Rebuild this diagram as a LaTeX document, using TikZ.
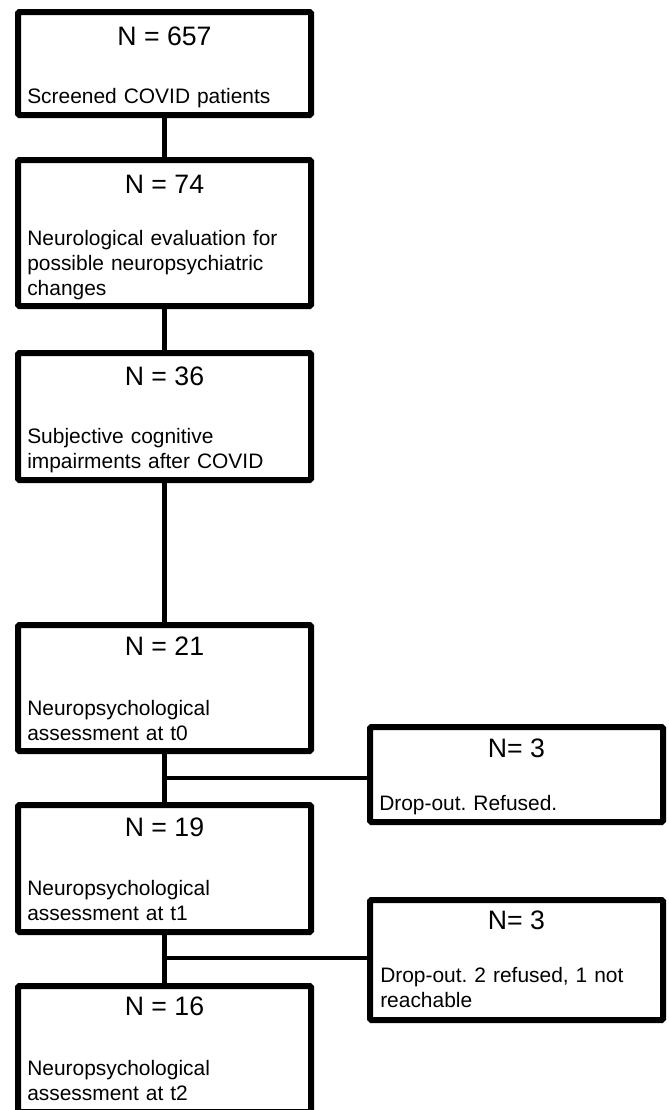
\documentclass[tikz,border=0pt]{standalone}
\usepackage{fontspec}
\setmainfont{Liberation Sans}
\frenchspacing
\tikzset{
box/.style={draw, line width=4.5pt, inner sep=0pt, outer sep=0pt, minimum width=219.75pt, rounded corners=1pt}, % frame of each stage
head/.style={anchor=base, inner sep=0pt, font=\fontsize{20}{24}\selectfont}, % the count at the top of a frame
body/.style={anchor=base west, inner sep=0pt, text width=214pt, align=left, font=\fontsize{15.7}{18.75}\selectfont}, % the description under it
link/.style={line width=3.5pt}, % lines between the frames
}

\begin{document}
\begin{tikzpicture}[x=0.75pt, y=-0.75pt]
    \useasboundingbox (0,0) rectangle (668,1110);

    % main column
    \node[box, minimum height=77.25pt] (b1) at (164.5,63.5) {};
    \node[box, minimum height=109.5pt] (b2) at (164.5,233) {};
    \node[box, minimum height=95.25pt] (b3) at (164.5,416.5) {};
    \node[box, minimum height=94.5pt] (b4) at (164.5,688) {};
    \node[box, minimum height=95.25pt] (b5) at (164.5,868.5) {};
    \node[box, minimum height=94.5pt] (b6) at (164.5,1049) {};

    % drop-outs
    \node[box, minimum height=71.25pt] (dA) at (516.5,774.5) {};
    \node[box, minimum height=90pt] (dB) at (516.5,960) {};

    \node[head] (h1) at (164.5,45) {N = 657};
    \node[body] (t1) at (27,103) {Screened COVID patients};

    \node[head] (h2) at (164.5,193) {N = 74};
    \node[body] (t2) at (27,245) {Neurological evaluation for\\possible neuropsychiatric\\changes};

    \node[head] (h3) at (164.5,385) {N = 36};
    \node[body] (t3) at (27,443) {Subjective cognitive\\impairments after COVID};

    \node[head] (h4) at (164.5,655) {N = 21};
    \node[body] (t4) at (27,715) {Neuropsychological\\assessment at t0};

    \node[head] (h5) at (164.5,836) {N = 19};
    \node[body] (t5) at (27,895) {Neuropsychological\\assessment at t1};

    \node[head] (h6) at (164.5,1015) {N = 16};
    \node[body] (t6) at (27,1075) {Neuropsychological\\assessment at t2};

    \node[head] (hA) at (516.5,757) {N= 3};
    \node[body] (tA) at (379,810) {Drop-out. Refused.};

    \node[head] (hB) at (516.5,929) {N= 3};
    \node[body] (tB) at (380,982) {Drop-out. 2 refused, 1 not\\reachable};

    \coordinate (j1) at (164.5,778);
    \coordinate (j2) at (164.5,958);

    \draw[link]
    (b1) -- (b2)
    (b2) -- (b3)
    (b3) -- (b4)
    (b4) -- (b5)
    (b5) -- (b6);

    \draw[link]
    (j1) -- (j1 -| dA.west)
    (j2) -- (j2 -| dB.west);

\end{tikzpicture}
\end{document}
